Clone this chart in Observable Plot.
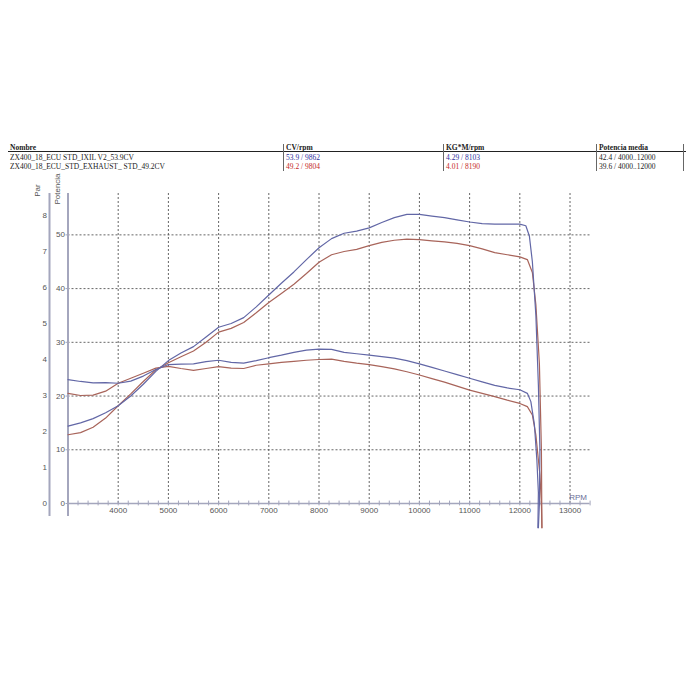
<!DOCTYPE html>
<html>
<head>
<meta charset="utf-8">
<script src="https://cdn.jsdelivr.net/npm/d3@7"></script>
<script src="https://cdn.jsdelivr.net/npm/@observablehq/plot@0.6"></script>
<style>
  html, body { margin: 0; padding: 0; background: #fff; }
  #hdr { position: relative; width: 700px; height: 175px; font-family: "Liberation Serif", "Times New Roman", serif; font-size: 7.5px; line-height: 1; color: #222; }
  #hdr .t { position: absolute; white-space: nowrap; }
  #hdr .hl { position: absolute; left: 8px; width: 678px; top: 151px; height: 0; border-top: 1px solid #222; }
  #hdr .vl { position: absolute; top: 144px; height: 27px; width: 0; border-left: 1px solid #666; }
  .blue { color: #2e2e9e; }
  .red { color: #c42828; }
</style>
</head>
<body>
<div id="hdr"></div>
<div id="chart"></div>
<script>
// ---------- header table ----------
const colHeads = ["Nombre", "CV/rpm", "KG*M/rpm", "Potencia media"];
const runNames = ["ZX400_18_ECU STD_IXIL V2_53.9CV", "ZX400_18_ECU_STD_EXHAUST_ STD_49.2CV"];
const maxPower = ["53.9 / 9862", "49.2 / 9804"];
const maxTorque = ["4.29 / 8103", "4.01 / 8190"];
const avgPower = ["42.4 / 4000..12000", "39.6 / 4000..12000"];

// ---------- axis ticks ----------
const xTicks = [4000, 5000, 6000, 7000, 8000, 9000, 10000, 11000, 12000, 13000];
const potTicks = [0, 10, 20, 30, 40, 50];
const parTicks = [0, 1, 2, 3, 4, 5, 6, 7, 8];

// ---------- curve data (rpm grid 3000..12000 step 250) ----------
const rpmGrid = [3000,3250,3500,3750,4000,4250,4500,4750,5000,5250,5500,5750,6000,6250,6500,6750,7000,7250,7500,7750,8000,8250,8500,8750,9000,9250,9500,9750,10000,10250,10500,10750,11000,11250,11500,11750,12000];

const powerBlue = [14.4,15.0,15.8,16.9,18.2,20.0,22.2,24.6,26.6,28.0,29.2,31.0,32.8,33.5,34.6,36.6,38.8,41.0,43.1,45.4,47.6,49.3,50.3,50.7,51.3,52.3,53.2,53.8,53.8,53.5,53.2,52.8,52.4,52.1,52.0,52.0,52.0];
const powerRed  = [12.8,13.2,14.2,15.9,18.2,20.4,22.7,24.9,26.2,27.3,28.4,30.0,31.9,32.6,33.7,35.5,37.4,39.1,40.8,42.8,44.9,46.3,46.9,47.3,48.0,48.6,49.0,49.2,49.1,48.9,48.7,48.4,48.0,47.4,46.7,46.3,45.9];
const torqueBlue = [3.44,3.39,3.35,3.36,3.34,3.40,3.54,3.72,3.86,3.87,3.88,3.94,3.98,3.92,3.90,3.97,4.05,4.12,4.20,4.26,4.29,4.28,4.20,4.16,4.12,4.08,4.04,3.97,3.88,3.78,3.68,3.58,3.48,3.38,3.28,3.21,3.16];
const torqueRed  = [3.06,3.00,3.01,3.12,3.34,3.48,3.62,3.76,3.81,3.75,3.70,3.75,3.80,3.76,3.75,3.84,3.88,3.92,3.95,3.98,4.00,4.01,3.95,3.90,3.86,3.80,3.74,3.66,3.57,3.47,3.37,3.26,3.15,3.06,2.97,2.87,2.78];

// rundown tails past 12000 rpm
const tailPowerBlueRpm = [12120,12190,12250,12320,12370,12400,12390,12370];
const tailPowerBlue    = [51.7,49.8,45.0,35.0,22.0,10.0,0.0,-4.5];
const tailTorqueBlueRpm = [12150,12220,12290,12340,12370,12360];
const tailTorqueBlue    = [3.06,2.83,2.20,1.20,0.30,-0.67];
const tailPowerRedRpm = [12150,12250,12320,12390,12430,12440];
const tailPowerRed    = [45.4,43.0,37.0,26.0,10.0,-4.5];
const tailTorqueRedRpm = [12150,12250,12320,12400,12430,12440];
const tailTorqueRed    = [2.69,2.46,1.90,0.80,0.00,-0.67];

// ---------- build header ----------
const hdr = document.getElementById("hdr");
const colX = [10, 286, 446, 599];
const sepX = [283, 443, 596, 683];
function addText(txt, x, y, cls, bold) {
  const s = document.createElement("div");
  s.className = "t " + (cls || "");
  s.style.left = x + "px"; s.style.top = y + "px";
  if (bold) s.style.fontWeight = "bold";
  s.textContent = txt;
  hdr.appendChild(s);
}
colHeads.forEach((h, i) => addText(h, colX[i], 143.5, "", true));
const rowY = [153.5, 163];
const rowCls = ["blue", "red"];
runNames.forEach((n, r) => {
  addText(n, colX[0], rowY[r], "", false);
  addText(maxPower[r], colX[1], rowY[r], rowCls[r], false);
  addText(maxTorque[r], colX[2], rowY[r], rowCls[r], false);
  addText(avgPower[r], colX[3], rowY[r], "", false);
});
const hl = document.createElement("div"); hl.className = "hl"; hdr.appendChild(hl);
sepX.forEach(x => { const v = document.createElement("div"); v.className = "vl"; v.style.left = x + "px"; hdr.appendChild(v); });

// ---------- chart ----------
const yTop = 57.7, yBot = -2.4;
const parRatio = 36 / 5.373;   // one Par unit in Potencia units
const minorTicks = d3.range(3000, 13401, 200);

function series(rpms, vals, tr, tv, isTorque, run) {
  const out = [];
  rpms.forEach((r, i) => out.push({rpm: r, v: isTorque ? vals[i] * parRatio : vals[i], run}));
  tr.forEach((r, i) => out.push({rpm: r, v: isTorque ? tv[i] * parRatio : tv[i], run}));
  return out;
}
const sPB = series(rpmGrid, powerBlue, tailPowerBlueRpm, tailPowerBlue, false, "blue");
const sPR = series(rpmGrid, powerRed, tailPowerRedRpm, tailPowerRed, false, "red");
const sTB = series(rpmGrid, torqueBlue, tailTorqueBlueRpm, tailTorqueBlue, true, "blue");
const sTR = series(rpmGrid, torqueRed, tailTorqueRedRpm, tailTorqueRed, true, "red");

const axisColor = "#a4a6bd";
const gridColor = "#555";
const blue = "#6267a6";
const red = "#a8645a";

const chart = Plot.plot({
  width: 700,
  height: 525,
  marginTop: 18,
  marginBottom: 197,
  marginLeft: 67.5,
  marginRight: 110.4,
  x: {domain: [3000, 13400], axis: null},
  y: {domain: [0, yTop], axis: null},
  style: {fontFamily: "Liberation Sans, Arial, sans-serif", fontSize: "8px", color: "#555", background: "#fff", overflow: "visible"},
  marks: [
    // grid
    Plot.ruleX(xTicks, {y1: 0, y2: yTop, stroke: gridColor, strokeWidth: 0.9, strokeDasharray: "2,2"}),
    Plot.ruleY(potTicks.filter(d => d > 0), {x1: 3000, x2: 13400, stroke: gridColor, strokeWidth: 0.9, strokeDasharray: "2,2"}),
    // axes lines
    Plot.ruleY([0], {x1: 3000, x2: 13400, stroke: axisColor, strokeWidth: 1.6}),
    Plot.ruleX(minorTicks, {y1: -0.45, y2: 0.45, stroke: axisColor, strokeWidth: 1}),
    Plot.ruleX([3000], {y1: yBot, y2: yTop, stroke: axisColor, strokeWidth: 2}),
    Plot.ruleX([3000], {y1: yBot, y2: yTop, stroke: axisColor, strokeWidth: 2, dx: -18.5}),
    // tick labels
    Plot.axisX({ticks: xTicks, tickFormat: d => String(d), tickSize: 0, tickPadding: 4, label: null, fill: "#555"}),
    Plot.axisY({ticks: potTicks, tickFormat: d => String(d), tickSize: 2, tickPadding: 1, label: null, fill: "#555", stroke: axisColor}),
    Plot.text(parTicks, {x: 3000, y: d => d * parRatio, text: d => String(d), dx: -21, textAnchor: "end", fill: "#555", fontSize: 8}),
    // axis titles
    Plot.text(["Par"], {x: 3000, y: yTop, dx: -31, dy: -3, rotate: -90, textAnchor: "middle", fill: "#555", fontSize: 8}),
    Plot.text(["Potencia"], {x: 3000, y: yTop, dx: -11, dy: -4.5, rotate: -90, textAnchor: "middle", fill: "#555", fontSize: 8}),
    Plot.text(["RPM"], {x: 13160, y: 0, dy: -6, textAnchor: "middle", fill: "#6a6e98", fontSize: 8}),
    // curves
    Plot.line(sTR, {x: "rpm", y: "v", stroke: red, strokeWidth: 1.2}),
    Plot.line(sPR, {x: "rpm", y: "v", stroke: red, strokeWidth: 1.2}),
    Plot.line(sTB, {x: "rpm", y: "v", stroke: blue, strokeWidth: 1.2}),
    Plot.line(sPB, {x: "rpm", y: "v", stroke: blue, strokeWidth: 1.2})
  ]
});
document.getElementById("chart").appendChild(chart);
</script>
</body>
</html>
